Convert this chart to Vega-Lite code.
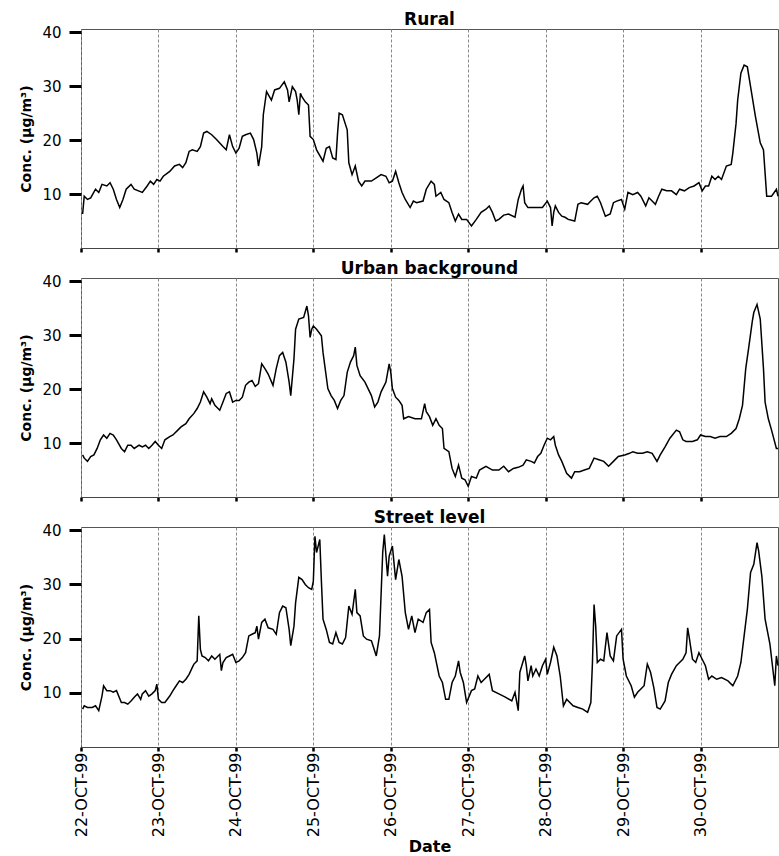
{
  "$schema": "https://vega.github.io/schema/vega-lite/v6.json",
  "padding": {"left": 19, "top": 10, "right": 0, "bottom": 0},
  "config": {
    "font": "DejaVu Sans",
    "view": {"stroke": "#555", "strokeWidth": 1},
    "axis": {"labelFont": "DejaVu Sans", "titleFont": "DejaVu Sans", "labelColor": "#000", "titleColor": "#000"},
    "title": {"font": "DejaVu Sans", "fontSize": 17, "fontWeight": "bold", "color": "#000", "anchor": "middle", "offset": -4}
  },
  "datasets": {
    "rural": [
      {"time":"1999-10-22T00:30","conc":6.3},{"time":"1999-10-22T01:00","conc":9.6},{"time":"1999-10-22T02:00","conc":9.0},{"time":"1999-10-22T03:00","conc":9.3},{"time":"1999-10-22T04:30","conc":10.9},{"time":"1999-10-22T05:30","conc":10.3},{"time":"1999-10-22T06:30","conc":11.8},{"time":"1999-10-22T08:00","conc":11.5},{"time":"1999-10-22T09:00","conc":12.1},{"time":"1999-10-22T10:00","conc":10.9},{"time":"1999-10-22T11:00","conc":9.0},{"time":"1999-10-22T12:00","conc":7.5},{"time":"1999-10-22T13:00","conc":9.0},{"time":"1999-10-22T14:00","conc":10.9},{"time":"1999-10-22T15:30","conc":11.8},{"time":"1999-10-22T16:30","conc":10.9},{"time":"1999-10-22T19:00","conc":10.3},{"time":"1999-10-22T20:30","conc":11.5},{"time":"1999-10-22T21:30","conc":12.4},{"time":"1999-10-22T22:30","conc":11.8},{"time":"1999-10-22T23:30","conc":12.7},
      {"time":"1999-10-23T00:30","conc":12.4},{"time":"1999-10-23T01:30","conc":13.3},{"time":"1999-10-23T03:30","conc":14.2},{"time":"1999-10-23T05:00","conc":15.2},{"time":"1999-10-23T06:30","conc":15.5},{"time":"1999-10-23T07:30","conc":14.9},{"time":"1999-10-23T08:30","conc":15.8},{"time":"1999-10-23T09:30","conc":17.9},{"time":"1999-10-23T10:30","conc":18.2},{"time":"1999-10-23T12:00","conc":17.9},{"time":"1999-10-23T13:00","conc":18.8},{"time":"1999-10-23T14:00","conc":21.3},{"time":"1999-10-23T15:00","conc":21.6},{"time":"1999-10-23T16:30","conc":21.0},{"time":"1999-10-23T18:00","conc":20.1},{"time":"1999-10-23T20:00","conc":18.8},{"time":"1999-10-23T21:00","conc":18.2},{"time":"1999-10-23T22:00","conc":21.0},{"time":"1999-10-23T23:00","conc":18.8},
      {"time":"1999-10-24T00:00","conc":17.6},{"time":"1999-10-24T01:00","conc":18.5},{"time":"1999-10-24T02:00","conc":20.7},{"time":"1999-10-24T03:00","conc":21.0},{"time":"1999-10-24T04:30","conc":21.3},{"time":"1999-10-24T05:30","conc":20.1},{"time":"1999-10-24T06:30","conc":17.6},{"time":"1999-10-24T07:00","conc":15.2},{"time":"1999-10-24T08:00","conc":18.8},{"time":"1999-10-24T08:30","conc":24.7},{"time":"1999-10-24T09:30","conc":29.0},{"time":"1999-10-24T11:00","conc":27.4},{"time":"1999-10-24T12:00","conc":29.3},{"time":"1999-10-24T13:30","conc":29.6},{"time":"1999-10-24T15:00","conc":30.8},{"time":"1999-10-24T16:00","conc":29.3},{"time":"1999-10-24T16:30","conc":27.1},{"time":"1999-10-24T17:30","conc":29.9},{"time":"1999-10-24T18:30","conc":29.0},{"time":"1999-10-24T19:00","conc":27.4},{"time":"1999-10-24T19:30","conc":24.7},{"time":"1999-10-24T20:00","conc":28.7},{"time":"1999-10-24T20:30","conc":28.0},{"time":"1999-10-24T21:30","conc":27.1},{"time":"1999-10-24T22:30","conc":26.5},{"time":"1999-10-24T23:00","conc":20.7},
      {"time":"1999-10-25T00:00","conc":20.1},{"time":"1999-10-25T01:00","conc":18.2},{"time":"1999-10-25T03:00","conc":16.1},{"time":"1999-10-25T04:00","conc":18.5},{"time":"1999-10-25T05:00","conc":18.8},{"time":"1999-10-25T06:00","conc":16.7},{"time":"1999-10-25T07:00","conc":16.4},{"time":"1999-10-25T07:30","conc":21.2},{"time":"1999-10-25T08:00","conc":25.0},{"time":"1999-10-25T09:00","conc":24.7},{"time":"1999-10-25T10:30","conc":21.9},{"time":"1999-10-25T11:00","conc":15.8},{"time":"1999-10-25T12:00","conc":13.6},{"time":"1999-10-25T13:00","conc":15.2},{"time":"1999-10-25T14:00","conc":12.4},{"time":"1999-10-25T15:00","conc":11.5},{"time":"1999-10-25T16:00","conc":12.4},{"time":"1999-10-25T18:00","conc":12.4},{"time":"1999-10-25T19:30","conc":13.0},{"time":"1999-10-25T21:00","conc":13.6},{"time":"1999-10-25T22:30","conc":13.3},{"time":"1999-10-25T23:30","conc":12.1},
      {"time":"1999-10-26T00:30","conc":12.4},{"time":"1999-10-26T01:30","conc":14.2},{"time":"1999-10-26T02:30","conc":12.1},{"time":"1999-10-26T03:30","conc":10.3},{"time":"1999-10-26T04:30","conc":9.0},{"time":"1999-10-26T06:00","conc":7.5},{"time":"1999-10-26T07:00","conc":8.7},{"time":"1999-10-26T08:00","conc":8.4},{"time":"1999-10-26T10:00","conc":8.7},{"time":"1999-10-26T11:00","conc":10.9},{"time":"1999-10-26T12:30","conc":12.4},{"time":"1999-10-26T13:30","conc":11.8},{"time":"1999-10-26T14:00","conc":9.6},{"time":"1999-10-26T15:30","conc":10.3},{"time":"1999-10-26T16:30","conc":9.0},{"time":"1999-10-26T18:00","conc":8.4},{"time":"1999-10-26T19:00","conc":6.6},{"time":"1999-10-26T20:00","conc":5.0},{"time":"1999-10-26T21:00","conc":6.3},{"time":"1999-10-26T22:00","conc":5.3},{"time":"1999-10-26T23:30","conc":5.3},
      {"time":"1999-10-27T01:00","conc":4.1},{"time":"1999-10-27T02:30","conc":5.3},{"time":"1999-10-27T04:00","conc":6.6},{"time":"1999-10-27T05:30","conc":7.2},{"time":"1999-10-27T06:30","conc":7.8},{"time":"1999-10-27T07:30","conc":6.6},{"time":"1999-10-27T08:30","conc":5.0},{"time":"1999-10-27T09:30","conc":5.3},{"time":"1999-10-27T11:00","conc":6.1},{"time":"1999-10-27T12:30","conc":6.3},{"time":"1999-10-27T14:30","conc":5.7},{"time":"1999-10-27T15:30","conc":9.0},{"time":"1999-10-27T16:30","conc":10.9},{"time":"1999-10-27T17:00","conc":11.5},{"time":"1999-10-27T17:30","conc":8.4},{"time":"1999-10-27T18:30","conc":7.5},{"time":"1999-10-27T23:00","conc":7.5},
      {"time":"1999-10-28T00:30","conc":8.7},{"time":"1999-10-28T01:30","conc":7.5},{"time":"1999-10-28T02:00","conc":4.1},{"time":"1999-10-28T02:30","conc":6.6},{"time":"1999-10-28T03:00","conc":7.8},{"time":"1999-10-28T04:00","conc":6.6},{"time":"1999-10-28T05:00","conc":5.9},{"time":"1999-10-28T06:00","conc":5.7},{"time":"1999-10-28T07:00","conc":5.3},{"time":"1999-10-28T09:00","conc":5.0},{"time":"1999-10-28T10:00","conc":8.1},{"time":"1999-10-28T11:00","conc":8.4},{"time":"1999-10-28T13:00","conc":8.1},{"time":"1999-10-28T14:00","conc":8.7},{"time":"1999-10-28T15:00","conc":9.3},{"time":"1999-10-28T16:00","conc":9.6},{"time":"1999-10-28T17:00","conc":8.4},{"time":"1999-10-28T18:30","conc":5.9},{"time":"1999-10-28T20:00","conc":6.3},{"time":"1999-10-28T21:00","conc":8.4},{"time":"1999-10-28T22:00","conc":8.7},{"time":"1999-10-28T23:30","conc":9.0},
      {"time":"1999-10-29T00:30","conc":7.2},{"time":"1999-10-29T01:30","conc":10.3},{"time":"1999-10-29T03:00","conc":9.9},{"time":"1999-10-29T04:30","conc":10.3},{"time":"1999-10-29T05:30","conc":9.6},{"time":"1999-10-29T07:00","conc":7.8},{"time":"1999-10-29T08:00","conc":9.3},{"time":"1999-10-29T09:00","conc":8.7},{"time":"1999-10-29T10:00","conc":8.1},{"time":"1999-10-29T11:00","conc":9.6},{"time":"1999-10-29T12:00","conc":10.9},{"time":"1999-10-29T13:30","conc":10.6},{"time":"1999-10-29T15:00","conc":10.6},{"time":"1999-10-29T16:30","conc":9.9},{"time":"1999-10-29T17:30","conc":10.9},{"time":"1999-10-29T19:00","conc":10.6},{"time":"1999-10-29T20:30","conc":11.2},{"time":"1999-10-29T22:00","conc":11.5},{"time":"1999-10-29T23:30","conc":12.1},
      {"time":"1999-10-30T00:30","conc":10.6},{"time":"1999-10-30T01:30","conc":11.5},{"time":"1999-10-30T02:30","conc":11.5},{"time":"1999-10-30T03:30","conc":13.3},{"time":"1999-10-30T04:30","conc":12.7},{"time":"1999-10-30T05:30","conc":13.3},{"time":"1999-10-30T06:30","conc":12.7},{"time":"1999-10-30T08:00","conc":15.2},{"time":"1999-10-30T09:30","conc":15.5},{"time":"1999-10-30T10:00","conc":17.6},{"time":"1999-10-30T11:00","conc":23.1},{"time":"1999-10-30T11:30","conc":27.4},{"time":"1999-10-30T12:30","conc":32.4},{"time":"1999-10-30T13:30","conc":33.9},{"time":"1999-10-30T14:30","conc":33.6},{"time":"1999-10-30T15:30","conc":29.9},{"time":"1999-10-30T17:00","conc":24.4},{"time":"1999-10-30T18:30","conc":19.5},{"time":"1999-10-30T19:30","conc":18.2},{"time":"1999-10-30T20:30","conc":9.6},{"time":"1999-10-30T22:00","conc":9.6},{"time":"1999-10-30T23:30","conc":10.9},{"time":"1999-10-31T00:00","conc":9.6}
    ],
    "urban": [
      {"time":"1999-10-22T00:30","conc":7.8},{"time":"1999-10-22T01:00","conc":7.2},{"time":"1999-10-22T02:00","conc":6.6},{"time":"1999-10-22T03:00","conc":7.5},{"time":"1999-10-22T04:00","conc":7.8},{"time":"1999-10-22T05:00","conc":9.0},{"time":"1999-10-22T06:00","conc":10.6},{"time":"1999-10-22T07:00","conc":11.5},{"time":"1999-10-22T08:00","conc":10.9},{"time":"1999-10-22T09:00","conc":11.8},{"time":"1999-10-22T10:00","conc":11.5},{"time":"1999-10-22T11:00","conc":10.6},{"time":"1999-10-22T12:30","conc":9.0},{"time":"1999-10-22T13:30","conc":8.4},{"time":"1999-10-22T14:30","conc":9.6},{"time":"1999-10-22T15:30","conc":9.6},{"time":"1999-10-22T16:30","conc":9.0},{"time":"1999-10-22T18:00","conc":9.6},{"time":"1999-10-22T19:00","conc":9.3},{"time":"1999-10-22T20:00","conc":9.6},{"time":"1999-10-22T21:00","conc":9.0},{"time":"1999-10-22T22:00","conc":9.6},{"time":"1999-10-22T23:00","conc":10.3},
      {"time":"1999-10-23T00:00","conc":9.6},{"time":"1999-10-23T01:00","conc":9.0},{"time":"1999-10-23T02:00","conc":10.6},{"time":"1999-10-23T03:30","conc":11.2},{"time":"1999-10-23T04:30","conc":11.5},{"time":"1999-10-23T06:00","conc":12.4},{"time":"1999-10-23T07:00","conc":13.0},{"time":"1999-10-23T08:30","conc":13.6},{"time":"1999-10-23T09:30","conc":14.5},{"time":"1999-10-23T11:00","conc":15.5},{"time":"1999-10-23T12:00","conc":16.4},{"time":"1999-10-23T13:00","conc":17.6},{"time":"1999-10-23T14:00","conc":19.5},{"time":"1999-10-23T15:00","conc":18.5},{"time":"1999-10-23T16:00","conc":17.3},{"time":"1999-10-23T16:30","conc":18.2},{"time":"1999-10-23T17:30","conc":17.0},{"time":"1999-10-23T19:00","conc":16.1},{"time":"1999-10-23T20:00","conc":17.6},{"time":"1999-10-23T21:00","conc":19.2},{"time":"1999-10-23T22:00","conc":19.5},{"time":"1999-10-23T23:00","conc":17.6},
      {"time":"1999-10-24T00:00","conc":17.9},{"time":"1999-10-24T01:00","conc":17.9},{"time":"1999-10-24T02:00","conc":18.5},{"time":"1999-10-24T03:00","conc":20.7},{"time":"1999-10-24T04:00","conc":21.3},{"time":"1999-10-24T05:00","conc":21.6},{"time":"1999-10-24T06:00","conc":20.5},{"time":"1999-10-24T07:00","conc":21.0},{"time":"1999-10-24T08:00","conc":24.7},{"time":"1999-10-24T09:00","conc":23.8},{"time":"1999-10-24T10:00","conc":22.8},{"time":"1999-10-24T11:30","conc":20.7},{"time":"1999-10-24T12:30","conc":23.8},{"time":"1999-10-24T13:30","conc":26.2},{"time":"1999-10-24T14:30","conc":26.8},{"time":"1999-10-24T15:30","conc":25.0},{"time":"1999-10-24T16:30","conc":21.3},{"time":"1999-10-24T17:00","conc":18.8},{"time":"1999-10-24T18:00","conc":25.6},{"time":"1999-10-24T18:30","conc":31.1},{"time":"1999-10-24T19:30","conc":33.0},{"time":"1999-10-24T21:00","conc":33.3},{"time":"1999-10-24T22:00","conc":35.4},{"time":"1999-10-24T22:30","conc":33.6},{"time":"1999-10-24T23:00","conc":29.6},{"time":"1999-10-24T23:30","conc":31.1},
      {"time":"1999-10-25T00:00","conc":31.7},{"time":"1999-10-25T01:00","conc":31.1},{"time":"1999-10-25T02:30","conc":29.9},{"time":"1999-10-25T03:00","conc":26.8},{"time":"1999-10-25T04:30","conc":20.1},{"time":"1999-10-25T05:30","conc":18.8},{"time":"1999-10-25T06:30","conc":17.9},{"time":"1999-10-25T07:30","conc":16.4},{"time":"1999-10-25T08:30","conc":17.9},{"time":"1999-10-25T09:30","conc":18.8},{"time":"1999-10-25T10:30","conc":23.1},{"time":"1999-10-25T11:30","conc":25.0},{"time":"1999-10-25T12:30","conc":26.2},{"time":"1999-10-25T13:00","conc":27.8},{"time":"1999-10-25T13:30","conc":24.4},{"time":"1999-10-25T14:30","conc":22.5},{"time":"1999-10-25T16:00","conc":21.3},{"time":"1999-10-25T18:00","conc":18.8},{"time":"1999-10-25T19:00","conc":16.7},{"time":"1999-10-25T20:00","conc":17.6},{"time":"1999-10-25T21:00","conc":19.5},{"time":"1999-10-25T22:30","conc":21.3},{"time":"1999-10-25T23:30","conc":24.7},
      {"time":"1999-10-26T00:00","conc":23.1},{"time":"1999-10-26T00:30","conc":20.1},{"time":"1999-10-26T01:30","conc":18.5},{"time":"1999-10-26T02:30","conc":17.9},{"time":"1999-10-26T03:30","conc":17.0},{"time":"1999-10-26T04:00","conc":14.5},{"time":"1999-10-26T05:30","conc":14.9},{"time":"1999-10-26T07:30","conc":14.5},{"time":"1999-10-26T09:30","conc":14.5},{"time":"1999-10-26T10:30","conc":17.3},{"time":"1999-10-26T11:00","conc":15.8},{"time":"1999-10-26T12:00","conc":14.9},{"time":"1999-10-26T13:00","conc":13.3},{"time":"1999-10-26T14:00","conc":14.5},{"time":"1999-10-26T15:00","conc":13.3},{"time":"1999-10-26T16:00","conc":12.7},{"time":"1999-10-26T16:30","conc":9.0},{"time":"1999-10-26T18:00","conc":8.4},{"time":"1999-10-26T19:00","conc":5.3},{"time":"1999-10-26T20:00","conc":3.8},{"time":"1999-10-26T21:00","conc":5.9},{"time":"1999-10-26T22:00","conc":3.5},{"time":"1999-10-26T23:00","conc":3.2},
      {"time":"1999-10-27T00:00","conc":2.0},{"time":"1999-10-27T01:00","conc":3.8},{"time":"1999-10-27T02:30","conc":3.5},{"time":"1999-10-27T03:30","conc":5.0},{"time":"1999-10-27T05:30","conc":5.7},{"time":"1999-10-27T07:30","conc":5.0},{"time":"1999-10-27T09:30","conc":5.0},{"time":"1999-10-27T11:00","conc":5.7},{"time":"1999-10-27T12:30","conc":4.7},{"time":"1999-10-27T14:00","conc":5.3},{"time":"1999-10-27T15:30","conc":5.5},{"time":"1999-10-27T17:00","conc":5.9},{"time":"1999-10-27T18:00","conc":6.9},{"time":"1999-10-27T19:30","conc":6.6},{"time":"1999-10-27T20:30","conc":6.3},{"time":"1999-10-27T21:30","conc":7.5},{"time":"1999-10-27T22:30","conc":8.1},{"time":"1999-10-27T23:30","conc":9.6},
      {"time":"1999-10-28T00:30","conc":10.9},{"time":"1999-10-28T01:30","conc":10.6},{"time":"1999-10-28T02:30","conc":11.2},{"time":"1999-10-28T03:00","conc":9.6},{"time":"1999-10-28T04:00","conc":7.8},{"time":"1999-10-28T05:00","conc":6.6},{"time":"1999-10-28T06:30","conc":4.4},{"time":"1999-10-28T08:00","conc":3.5},{"time":"1999-10-28T09:00","conc":4.7},{"time":"1999-10-28T10:30","conc":4.7},{"time":"1999-10-28T12:00","conc":5.0},{"time":"1999-10-28T13:30","conc":5.3},{"time":"1999-10-28T15:00","conc":7.2},{"time":"1999-10-28T16:30","conc":6.9},{"time":"1999-10-28T18:00","conc":6.6},{"time":"1999-10-28T19:30","conc":5.7},{"time":"1999-10-28T21:00","conc":6.6},{"time":"1999-10-28T22:30","conc":7.5},
      {"time":"1999-10-29T00:30","conc":7.8},{"time":"1999-10-29T02:00","conc":8.1},{"time":"1999-10-29T03:00","conc":8.4},{"time":"1999-10-29T04:30","conc":8.1},{"time":"1999-10-29T06:00","conc":8.1},{"time":"1999-10-29T07:30","conc":8.4},{"time":"1999-10-29T09:00","conc":8.1},{"time":"1999-10-29T10:30","conc":6.6},{"time":"1999-10-29T11:30","conc":7.8},{"time":"1999-10-29T13:00","conc":9.3},{"time":"1999-10-29T14:30","conc":10.9},{"time":"1999-10-29T16:30","conc":12.4},{"time":"1999-10-29T17:30","conc":12.1},{"time":"1999-10-29T18:30","conc":10.6},{"time":"1999-10-29T19:30","conc":10.3},{"time":"1999-10-29T21:30","conc":10.3},{"time":"1999-10-29T23:00","conc":10.6},
      {"time":"1999-10-30T00:00","conc":11.5},{"time":"1999-10-30T01:30","conc":11.2},{"time":"1999-10-30T03:00","conc":11.2},{"time":"1999-10-30T04:30","conc":10.9},{"time":"1999-10-30T06:00","conc":11.2},{"time":"1999-10-30T08:00","conc":11.2},{"time":"1999-10-30T09:30","conc":11.8},{"time":"1999-10-30T11:00","conc":12.7},{"time":"1999-10-30T12:00","conc":14.5},{"time":"1999-10-30T13:00","conc":17.0},{"time":"1999-10-30T14:00","conc":23.8},{"time":"1999-10-30T15:00","conc":28.0},{"time":"1999-10-30T16:00","conc":32.4},{"time":"1999-10-30T16:30","conc":34.2},{"time":"1999-10-30T17:30","conc":35.7},{"time":"1999-10-30T18:30","conc":33.0},{"time":"1999-10-30T19:30","conc":23.8},{"time":"1999-10-30T20:00","conc":17.6},{"time":"1999-10-30T21:00","conc":14.5},{"time":"1999-10-30T22:00","conc":12.4},{"time":"1999-10-30T23:30","conc":9.0},{"time":"1999-10-31T00:00","conc":9.0}
    ],
    "street": [
      {"time":"1999-10-22T00:30","conc":7.0},{"time":"1999-10-22T01:00","conc":7.6},{"time":"1999-10-22T02:00","conc":7.3},{"time":"1999-10-22T03:30","conc":7.3},{"time":"1999-10-22T04:30","conc":7.6},{"time":"1999-10-22T05:30","conc":6.7},{"time":"1999-10-22T06:30","conc":9.4},{"time":"1999-10-22T07:00","conc":11.3},{"time":"1999-10-22T08:00","conc":10.4},{"time":"1999-10-22T09:00","conc":10.4},{"time":"1999-10-22T10:00","conc":10.1},{"time":"1999-10-22T11:00","conc":10.4},{"time":"1999-10-22T12:30","conc":8.2},{"time":"1999-10-22T13:30","conc":8.2},{"time":"1999-10-22T14:30","conc":7.9},{"time":"1999-10-22T15:30","conc":8.5},{"time":"1999-10-22T16:30","conc":9.2},{"time":"1999-10-22T17:30","conc":9.8},{"time":"1999-10-22T18:30","conc":8.8},{"time":"1999-10-22T19:00","conc":9.8},{"time":"1999-10-22T20:00","conc":10.4},{"time":"1999-10-22T21:00","conc":9.4},{"time":"1999-10-22T22:00","conc":9.8},{"time":"1999-10-22T23:00","conc":10.4},{"time":"1999-10-22T23:30","conc":11.6},
      {"time":"1999-10-23T00:00","conc":8.8},{"time":"1999-10-23T01:00","conc":8.2},{"time":"1999-10-23T02:00","conc":8.2},{"time":"1999-10-23T03:30","conc":9.4},{"time":"1999-10-23T04:30","conc":10.4},{"time":"1999-10-23T05:30","conc":11.3},{"time":"1999-10-23T06:30","conc":12.2},{"time":"1999-10-23T07:30","conc":11.9},{"time":"1999-10-23T08:30","conc":12.5},{"time":"1999-10-23T09:30","conc":13.4},{"time":"1999-10-23T10:30","conc":14.7},{"time":"1999-10-23T11:00","conc":15.3},{"time":"1999-10-23T12:00","conc":15.9},{"time":"1999-10-23T12:30","conc":24.2},{"time":"1999-10-23T13:00","conc":18.0},{"time":"1999-10-23T13:30","conc":16.8},{"time":"1999-10-23T14:30","conc":16.5},{"time":"1999-10-23T15:30","conc":15.9},{"time":"1999-10-23T16:30","conc":16.8},{"time":"1999-10-23T17:30","conc":16.2},{"time":"1999-10-23T19:00","conc":17.1},{"time":"1999-10-23T19:30","conc":14.1},{"time":"1999-10-23T20:00","conc":15.6},{"time":"1999-10-23T21:00","conc":16.5},{"time":"1999-10-23T22:00","conc":16.8},{"time":"1999-10-23T23:00","conc":17.1},
      {"time":"1999-10-24T00:00","conc":15.6},{"time":"1999-10-24T01:00","conc":15.9},{"time":"1999-10-24T02:00","conc":16.5},{"time":"1999-10-24T03:00","conc":17.4},{"time":"1999-10-24T04:00","conc":20.5},{"time":"1999-10-24T05:00","conc":20.8},{"time":"1999-10-24T06:00","conc":21.1},{"time":"1999-10-24T06:30","conc":22.3},{"time":"1999-10-24T07:00","conc":19.9},{"time":"1999-10-24T08:00","conc":23.0},{"time":"1999-10-24T09:00","conc":23.6},{"time":"1999-10-24T10:00","conc":22.0},{"time":"1999-10-24T11:30","conc":21.7},{"time":"1999-10-24T12:30","conc":20.8},{"time":"1999-10-24T13:30","conc":24.8},{"time":"1999-10-24T14:30","conc":26.0},{"time":"1999-10-24T15:30","conc":25.7},{"time":"1999-10-24T16:30","conc":21.7},{"time":"1999-10-24T17:00","conc":18.7},{"time":"1999-10-24T18:00","conc":22.3},{"time":"1999-10-24T18:30","conc":26.6},{"time":"1999-10-24T19:30","conc":31.3},{"time":"1999-10-24T20:30","conc":30.9},{"time":"1999-10-24T21:30","conc":30.0},{"time":"1999-10-24T22:30","conc":29.4},{"time":"1999-10-24T23:30","conc":29.1},
      {"time":"1999-10-25T00:00","conc":30.6},{"time":"1999-10-25T00:30","conc":38.9},{"time":"1999-10-25T01:00","conc":35.9},{"time":"1999-10-25T02:00","conc":38.3},{"time":"1999-10-25T02:30","conc":30.6},{"time":"1999-10-25T03:00","conc":23.6},{"time":"1999-10-25T04:00","conc":21.7},{"time":"1999-10-25T05:00","conc":19.3},{"time":"1999-10-25T06:00","conc":19.0},{"time":"1999-10-25T07:00","conc":21.1},{"time":"1999-10-25T08:00","conc":19.3},{"time":"1999-10-25T09:00","conc":19.0},{"time":"1999-10-25T10:00","conc":20.2},{"time":"1999-10-25T11:00","conc":26.0},{"time":"1999-10-25T12:00","conc":24.5},{"time":"1999-10-25T13:00","conc":29.1},{"time":"1999-10-25T13:30","conc":24.8},{"time":"1999-10-25T14:30","conc":24.2},{"time":"1999-10-25T15:30","conc":20.5},{"time":"1999-10-25T16:30","conc":19.9},{"time":"1999-10-25T18:00","conc":19.6},{"time":"1999-10-25T18:30","conc":18.7},{"time":"1999-10-25T19:30","conc":16.8},{"time":"1999-10-25T20:30","conc":20.5},{"time":"1999-10-25T21:30","conc":35.9},{"time":"1999-10-25T22:00","conc":39.2},{"time":"1999-10-25T23:00","conc":31.5},{"time":"1999-10-25T23:30","conc":35.2},
      {"time":"1999-10-26T00:30","conc":37.1},{"time":"1999-10-26T01:30","conc":30.9},{"time":"1999-10-26T02:30","conc":34.6},{"time":"1999-10-26T03:30","conc":31.5},{"time":"1999-10-26T04:30","conc":24.8},{"time":"1999-10-26T05:30","conc":21.7},{"time":"1999-10-26T06:30","conc":24.2},{"time":"1999-10-26T07:30","conc":21.1},{"time":"1999-10-26T08:30","conc":23.6},{"time":"1999-10-26T10:00","conc":23.0},{"time":"1999-10-26T11:00","conc":24.8},{"time":"1999-10-26T12:00","conc":25.4},{"time":"1999-10-26T12:30","conc":19.3},{"time":"1999-10-26T13:30","conc":17.4},{"time":"1999-10-26T15:00","conc":13.1},{"time":"1999-10-26T16:00","conc":11.9},{"time":"1999-10-26T17:00","conc":8.8},{"time":"1999-10-26T18:00","conc":8.8},{"time":"1999-10-26T19:00","conc":11.9},{"time":"1999-10-26T20:00","conc":13.1},{"time":"1999-10-26T21:00","conc":15.9},{"time":"1999-10-26T21:30","conc":13.8},{"time":"1999-10-26T22:30","conc":11.9},{"time":"1999-10-26T23:30","conc":8.2},
      {"time":"1999-10-27T01:00","conc":10.4},{"time":"1999-10-27T02:00","conc":10.7},{"time":"1999-10-27T03:00","conc":13.1},{"time":"1999-10-27T04:00","conc":11.9},{"time":"1999-10-27T05:00","conc":12.5},{"time":"1999-10-27T06:30","conc":13.4},{"time":"1999-10-27T07:30","conc":10.4},{"time":"1999-10-27T09:30","conc":9.8},{"time":"1999-10-27T11:30","conc":9.2},{"time":"1999-10-27T13:30","conc":8.5},{"time":"1999-10-27T14:30","conc":10.1},{"time":"1999-10-27T15:30","conc":6.7},{"time":"1999-10-27T16:00","conc":13.8},{"time":"1999-10-27T17:30","conc":16.8},{"time":"1999-10-27T18:00","conc":15.0},{"time":"1999-10-27T18:30","conc":12.2},{"time":"1999-10-27T19:30","conc":15.0},{"time":"1999-10-27T20:00","conc":13.1},{"time":"1999-10-27T21:00","conc":14.4},{"time":"1999-10-27T22:00","conc":13.1},{"time":"1999-10-27T23:00","conc":15.0},
      {"time":"1999-10-28T00:00","conc":16.2},{"time":"1999-10-28T00:30","conc":13.4},{"time":"1999-10-28T01:30","conc":15.6},{"time":"1999-10-28T02:30","conc":18.4},{"time":"1999-10-28T03:30","conc":16.8},{"time":"1999-10-28T04:30","conc":13.1},{"time":"1999-10-28T05:30","conc":7.6},{"time":"1999-10-28T06:30","conc":8.8},{"time":"1999-10-28T08:30","conc":7.6},{"time":"1999-10-28T10:00","conc":7.3},{"time":"1999-10-28T11:30","conc":7.0},{"time":"1999-10-28T13:00","conc":6.4},{"time":"1999-10-28T14:00","conc":8.2},{"time":"1999-10-28T14:30","conc":15.6},{"time":"1999-10-28T15:00","conc":26.3},{"time":"1999-10-28T15:30","conc":22.3},{"time":"1999-10-28T16:00","conc":15.6},{"time":"1999-10-28T17:00","conc":16.2},{"time":"1999-10-28T18:00","conc":15.9},{"time":"1999-10-28T19:00","conc":21.1},{"time":"1999-10-28T20:00","conc":16.8},{"time":"1999-10-28T21:00","conc":15.9},{"time":"1999-10-28T22:00","conc":20.5},{"time":"1999-10-28T23:30","conc":21.7},
      {"time":"1999-10-29T00:00","conc":16.2},{"time":"1999-10-29T01:00","conc":13.1},{"time":"1999-10-29T02:30","conc":11.3},{"time":"1999-10-29T03:30","conc":9.2},{"time":"1999-10-29T04:30","conc":10.1},{"time":"1999-10-29T05:30","conc":10.7},{"time":"1999-10-29T06:30","conc":11.3},{"time":"1999-10-29T07:30","conc":15.3},{"time":"1999-10-29T08:30","conc":13.8},{"time":"1999-10-29T09:30","conc":11.0},{"time":"1999-10-29T10:30","conc":7.3},{"time":"1999-10-29T11:30","conc":7.0},{"time":"1999-10-29T13:00","conc":8.5},{"time":"1999-10-29T14:00","conc":11.9},{"time":"1999-10-29T15:00","conc":13.4},{"time":"1999-10-29T16:30","conc":15.0},{"time":"1999-10-29T17:30","conc":15.6},{"time":"1999-10-29T18:30","conc":16.2},{"time":"1999-10-29T19:30","conc":17.4},{"time":"1999-10-29T20:00","conc":22.0},{"time":"1999-10-29T20:30","conc":20.2},{"time":"1999-10-29T21:30","conc":16.2},{"time":"1999-10-29T22:30","conc":15.6},{"time":"1999-10-29T23:30","conc":17.4},
      {"time":"1999-10-30T00:30","conc":16.2},{"time":"1999-10-30T01:30","conc":15.0},{"time":"1999-10-30T02:30","conc":12.5},{"time":"1999-10-30T03:30","conc":13.1},{"time":"1999-10-30T05:00","conc":12.5},{"time":"1999-10-30T06:30","conc":12.8},{"time":"1999-10-30T08:30","conc":12.2},{"time":"1999-10-30T10:00","conc":11.3},{"time":"1999-10-30T11:30","conc":13.1},{"time":"1999-10-30T12:30","conc":15.6},{"time":"1999-10-30T13:30","conc":20.5},{"time":"1999-10-30T14:30","conc":25.4},{"time":"1999-10-30T15:30","conc":32.2},{"time":"1999-10-30T16:30","conc":33.7},{"time":"1999-10-30T17:30","conc":37.7},{"time":"1999-10-30T18:00","conc":36.2},{"time":"1999-10-30T19:00","conc":31.5},{"time":"1999-10-30T20:00","conc":23.6},{"time":"1999-10-30T21:30","conc":19.0},{"time":"1999-10-30T23:00","conc":11.3},{"time":"1999-10-30T23:30","conc":16.8},{"time":"1999-10-31T00:00","conc":15.0}
    ]
  },
  "spacing": 5,
  "vconcat": [
    {
      "width": 697, "height": 219,
      "title": "Rural",
      "data": {"name": "rural"},
      "mark": {"type": "line", "color": "#000", "strokeWidth": 1.5},
      "encoding": {
        "x": {"field": "time", "type": "temporal",
          "scale": {"domain": [{"year": 1999, "month": "oct", "date": 22}, {"year": 1999, "month": "oct", "date": 31}]},
          "axis": {"values": [{"year":1999,"month":"oct","date":22},{"year":1999,"month":"oct","date":23},{"year":1999,"month":"oct","date":24},{"year":1999,"month":"oct","date":25},{"year":1999,"month":"oct","date":26},{"year":1999,"month":"oct","date":27},{"year":1999,"month":"oct","date":28},{"year":1999,"month":"oct","date":29},{"year":1999,"month":"oct","date":30}],
            "labels": false, "title": null, "grid": true, "gridColor": "#888", "gridDash": [3, 2], "gridWidth": 1,
            "domainColor": "#444", "tickColor": "#000", "tickSize": 4, "tickWidth": 2.5}},
        "y": {"field": "conc", "type": "quantitative",
          "scale": {"domain": [0, 40.6], "nice": false},
          "axis": {"values": [10, 20, 30, 40], "title": "Conc. (μg/m³)", "titleFontSize": 14, "titleFontWeight": "bold",
            "labelFontSize": 15, "tickSize": 12, "tickWidth": 3, "tickColor": "#000", "domain": false, "grid": false,
            "labelPadding": 8, "titlePadding": 8}}
      }
    },
    {
      "width": 697, "height": 219,
      "title": "Urban background",
      "data": {"name": "urban"},
      "mark": {"type": "line", "color": "#000", "strokeWidth": 1.5},
      "encoding": {
        "x": {"field": "time", "type": "temporal",
          "scale": {"domain": [{"year": 1999, "month": "oct", "date": 22}, {"year": 1999, "month": "oct", "date": 31}]},
          "axis": {"values": [{"year":1999,"month":"oct","date":22},{"year":1999,"month":"oct","date":23},{"year":1999,"month":"oct","date":24},{"year":1999,"month":"oct","date":25},{"year":1999,"month":"oct","date":26},{"year":1999,"month":"oct","date":27},{"year":1999,"month":"oct","date":28},{"year":1999,"month":"oct","date":29},{"year":1999,"month":"oct","date":30}],
            "labels": false, "title": null, "grid": true, "gridColor": "#888", "gridDash": [3, 2], "gridWidth": 1,
            "domainColor": "#444", "tickColor": "#000", "tickSize": 4, "tickWidth": 2.5}},
        "y": {"field": "conc", "type": "quantitative",
          "scale": {"domain": [0, 40.6], "nice": false},
          "axis": {"values": [10, 20, 30, 40], "title": "Conc. (μg/m³)", "titleFontSize": 14, "titleFontWeight": "bold",
            "labelFontSize": 15, "tickSize": 12, "tickWidth": 3, "tickColor": "#000", "domain": false, "grid": false,
            "labelPadding": 8, "titlePadding": 8}}
      }
    },
    {
      "width": 697, "height": 220,
      "title": "Street level",
      "data": {"name": "street"},
      "mark": {"type": "line", "color": "#000", "strokeWidth": 1.5},
      "encoding": {
        "x": {"field": "time", "type": "temporal",
          "scale": {"domain": [{"year": 1999, "month": "oct", "date": 22}, {"year": 1999, "month": "oct", "date": 31}]},
          "axis": {"values": [{"year":1999,"month":"oct","date":22},{"year":1999,"month":"oct","date":23},{"year":1999,"month":"oct","date":24},{"year":1999,"month":"oct","date":25},{"year":1999,"month":"oct","date":26},{"year":1999,"month":"oct","date":27},{"year":1999,"month":"oct","date":28},{"year":1999,"month":"oct","date":29},{"year":1999,"month":"oct","date":30}],
            "labelExpr": "upper(timeFormat(datum.value, '%d-%b-%y'))", "labelAngle": 270, "labelFontSize": 16, "labelPadding": 1,
            "title": "Date", "titleFontSize": 16, "titleFontWeight": "bold", "titlePadding": 2,
            "grid": true, "gridColor": "#888", "gridDash": [3, 2], "gridWidth": 1,
            "domainColor": "#444", "tickColor": "#000", "tickSize": 4, "tickWidth": 2.5}},
        "y": {"field": "conc", "type": "quantitative",
          "scale": {"domain": [0, 40.6], "nice": false},
          "axis": {"values": [10, 20, 30, 40], "title": "Conc. (μg/m³)", "titleFontSize": 14, "titleFontWeight": "bold",
            "labelFontSize": 15, "tickSize": 12, "tickWidth": 3, "tickColor": "#000", "domain": false, "grid": false,
            "labelPadding": 8, "titlePadding": 8}}
      }
    }
  ]
}
